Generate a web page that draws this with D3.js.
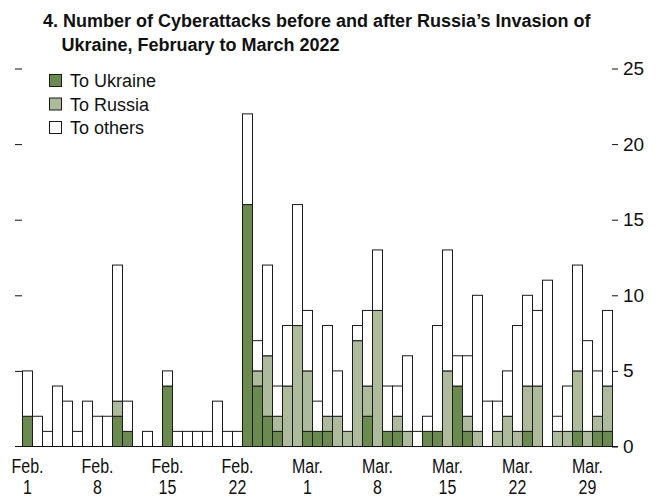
<!DOCTYPE html>
<html>
<head>
<meta charset="utf-8">
<script src="https://cdn.jsdelivr.net/npm/d3@7"></script>
<style>
  html, body { margin: 0; padding: 0; background: #fff; }
  svg { display: block; }
  text { font-family: "Liberation Sans", Arial, sans-serif; fill: #111; }
</style>
</head>
<body>
<svg id="chart" width="658" height="499"></svg>
<script>
// ---- data ----
const titleLines = ["4. Number of Cyberattacks before and after Russia\u2019s Invasion of", "Ukraine, February to March 2022"];
const seriesNames = ["To Ukraine", "To Russia", "To others"];
const seriesKeys = ["ukraine", "russia", "others"];
const seriesColors = ["#6a8a50", "#adba9b", "#ffffff"];

// days Feb 1 .. Mar 31, 2022
const days = d3.timeDay.range(new Date(2022, 1, 1), new Date(2022, 3, 1));

const ukraine = [2,0,0,0,0,0,0,0,0,2,1,0,0,0,4,0,0,0,0,0,0,0,16,4,2,1,0,0,1,1,1,0,0,0,2,0,1,1,0,0,1,1,0,4,1,0,0,0,0,0,1,0,0,0,0,1,0,1,1];
const russia  = [0,0,0,0,0,0,0,0,0,1,0,0,0,0,0,0,0,0,0,0,0,0,0,1,4,1,4,8,4,0,1,2,1,7,2,9,0,1,1,0,0,0,5,0,1,1,0,1,2,1,3,4,0,1,1,4,1,1,3];
const others  = [3,2,1,4,3,1,3,2,2,9,2,0,1,0,1,1,1,1,1,3,1,1,6,2,6,2,4,8,4,2,6,3,0,1,5,4,3,2,5,1,1,7,8,2,4,9,3,2,3,7,6,5,11,1,3,7,6,3,5];

const tickDays = [0, 7, 14, 21, 28, 35, 42, 49, 56];
const tickLabels = [["Feb.","1"],["Feb.","8"],["Feb.","15"],["Feb.","22"],["Mar.","1"],["Mar.","8"],["Mar.","15"],["Mar.","22"],["Mar.","29"]];
const yTicks = [0, 5, 10, 15, 20, 25];

// ---- build ----
const rows = days.map((d, i) => ({ day: d, ukraine: ukraine[i], russia: russia[i], others: others[i] }));
const svg = d3.select("#chart");

const x = d3.scaleBand().domain(days.map(d => +d)).range([22.5, 612.5]).padding(0);
const y = d3.scaleLinear().domain([0, 25]).range([446.5, 68.5]);

const stacked = d3.stack().keys(seriesKeys)(rows);

const g = svg.append("g");
stacked.forEach((layer, li) => {
  g.append("g")
    .selectAll("rect")
    .data(layer.filter(s => s[1] - s[0] > 0))
    .join("rect")
      .attr("x", s => x(+s.data.day))
      .attr("width", x.bandwidth())
      .attr("y", s => y(s[1]))
      .attr("height", s => y(s[0]) - y(s[1]))
      .attr("fill", seriesColors[li])
      .attr("stroke", "#1a1a1a")
      .attr("stroke-width", 1);
});

// baseline
svg.append("line")
  .attr("x1", 15).attr("x2", 618)
  .attr("y1", y(0)).attr("y2", y(0))
  .attr("stroke", "#111").attr("stroke-width", 1.2);

// left axis (ticks only)
const leftAxis = svg.append("g").attr("transform", "translate(22,0)")
  .call(d3.axisLeft(y).tickValues(yTicks.filter(v => v > 0)).tickSize(7).tickFormat(""));
leftAxis.select(".domain").remove();
leftAxis.selectAll(".tick line").attr("stroke", "#111");

// right axis
const rightAxis = svg.append("g").attr("transform", "translate(612,0)")
  .call(d3.axisRight(y).tickValues(yTicks).tickSize(6).tickPadding(5));
rightAxis.select(".domain").remove();
rightAxis.selectAll(".tick line").attr("stroke", "#111");
rightAxis.selectAll(".tick text")
  .style("font-family", "'Liberation Sans',Arial,sans-serif")
  .style("font-size", "19px").attr("fill", "#111");

// bottom axis
const bottomAxis = svg.append("g").attr("transform", `translate(0,${y(0)})`)
  .call(d3.axisBottom(x).tickValues(tickDays.map(i => +days[i])).tickSize(0)
    .tickFormat(() => ""));
bottomAxis.select(".domain").remove();
bottomAxis.selectAll(".tick text").each(function(d, i) {
  const t = d3.select(this).attr("y", 0).attr("dy", null)
    .attr("transform", "scale(0.82,1)")
    .style("font-family", "'Liberation Sans',Arial,sans-serif")
    .style("font-size", "19.5px").attr("fill", "#111");
  t.append("tspan").attr("x", 0).attr("y", 27).text(tickLabels[i][0]);
  t.append("tspan").attr("x", 0).attr("y", 48).text(tickLabels[i][1]);
});

// title
const title = svg.append("text")
  .style("font-weight", "bold").style("font-size", "18px");
title.append("tspan").attr("x", 43).attr("y", 27).text(titleLines[0]);
title.append("tspan").attr("x", 61.5).attr("y", 50.5).text(titleLines[1]);

// legend
const legend = svg.append("g");
seriesNames.forEach((name, i) => {
  const ly = 74.5 + i * 23.5;
  legend.append("rect").attr("x", 49.5).attr("y", ly).attr("width", 12).attr("height", 12)
    .attr("fill", seriesColors[i]).attr("stroke", "#1a1a1a").attr("stroke-width", 1);
  legend.append("text").attr("x", 70).attr("y", ly + 12.8)
    .style("font-size", "18px").text(name);
});
</script>
</body>
</html>
